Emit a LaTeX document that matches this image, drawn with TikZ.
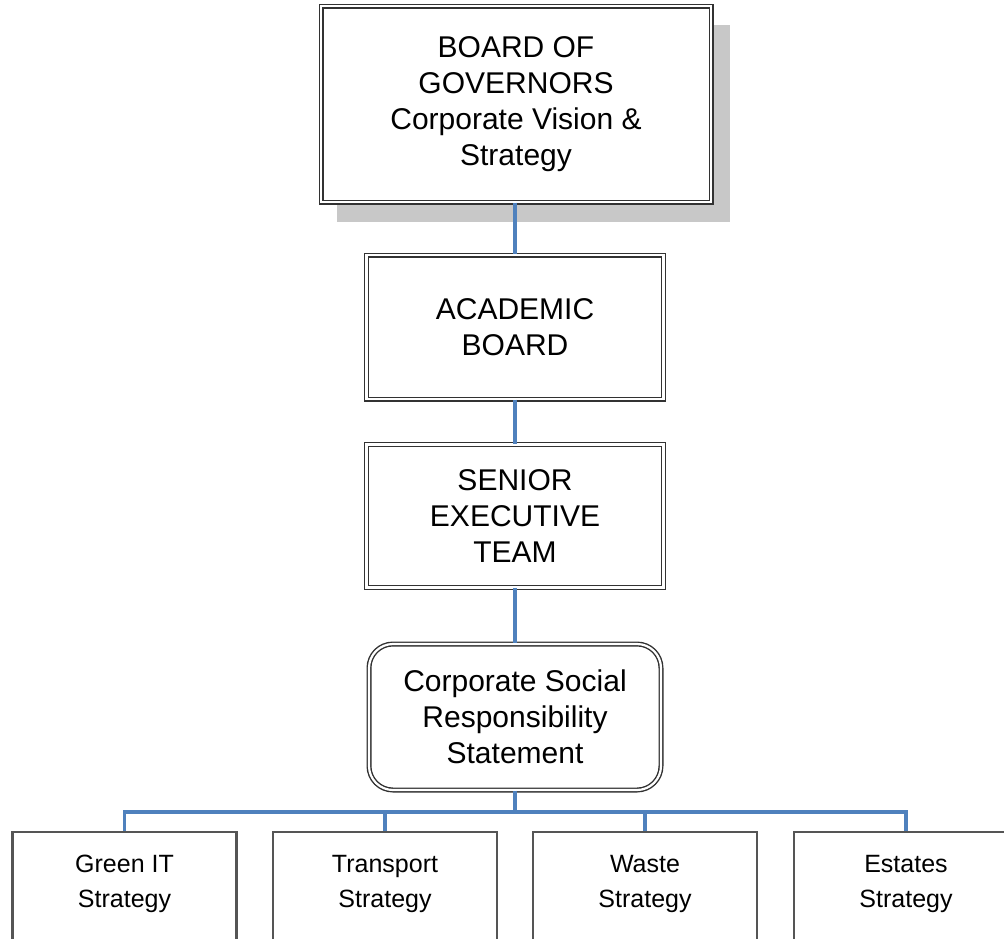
\documentclass[tikz,border=0pt]{standalone}
\usepackage{fontspec}
\setmainfont{Liberation Sans}
\definecolor{connblue}{RGB}{79,129,189}
\definecolor{boxline}{RGB}{50,50,50}
\definecolor{leafline}{RGB}{85,85,85}
\definecolor{shadowgray}{RGB}{200,200,200}
\begin{document}
\begin{tikzpicture}[x=1pt,y=-1pt,
  dblbox/.style={draw=boxline, line width=1.4pt, double=white, double distance=2.2pt,
    fill=white, align=center, inner sep=0pt, font=\fontsize{30}{36}\selectfont},
  csrbox/.style={dblbox, rounded corners=24pt},
  leafbox/.style={draw=leafline, line width=2.2pt, fill=white, anchor=north,
    minimum width=224pt, minimum height=160pt, inner sep=0pt},
  leaftext/.style={align=center, inner sep=0pt, font=\fontsize{25}{35}\selectfont},
  conn/.style={draw=connblue, line width=3.8pt}]
\clip (0,0) rectangle (1004,938);
\fill[white] (0,0) rectangle (1004,938);
% shadow of top box
\fill[shadowgray] (337,25) rectangle (730,222);
% nodes
\node[dblbox, minimum width=390pt, minimum height=196pt] (bog) at (516,104)
  {BOARD OF\\GOVERNORS\\Corporate Vision \&\\Strategy};
\node[dblbox, minimum width=297pt, minimum height=144pt] (ab) at (515,327)
  {ACADEMIC\\BOARD};
\node[dblbox, minimum width=297pt, minimum height=143pt] (set) at (515,516)
  {SENIOR\\EXECUTIVE\\TEAM};
\node[csrbox, minimum width=292pt, minimum height=146pt] (csr) at (515,717)
  {Corporate Social\\Responsibility\\Statement};
\node[leafbox] (g) at (124.5,831) {};
\node[leafbox] (t) at (385,831) {};
\node[leafbox] (w) at (645,831) {};
\node[leafbox] (e) at (906,831) {};
\node[leaftext] (gt) at (124.5,884) {Green IT\\Strategy};
\node[leaftext] (tt) at (385,884) {Transport\\Strategy};
\node[leaftext] (wt) at (645,884) {Waste\\Strategy};
\node[leaftext] (et) at (906,884) {Estates\\Strategy};
\coordinate (bus) at (515,812);
% connectors
\draw[conn] (bog.south -| ab.north) -- (ab.north);
\draw[conn] (ab.south) -- (set.north);
\draw[conn] (set.south) -- (csr.north);
\draw[conn] (csr.south) -- (bus);
\draw[conn] (g.north) |- (bus);
\draw[conn] (t.north) |- (bus);
\draw[conn] (w.north) |- (bus);
\draw[conn] (e.north) |- (bus);
\end{tikzpicture}
\end{document}
